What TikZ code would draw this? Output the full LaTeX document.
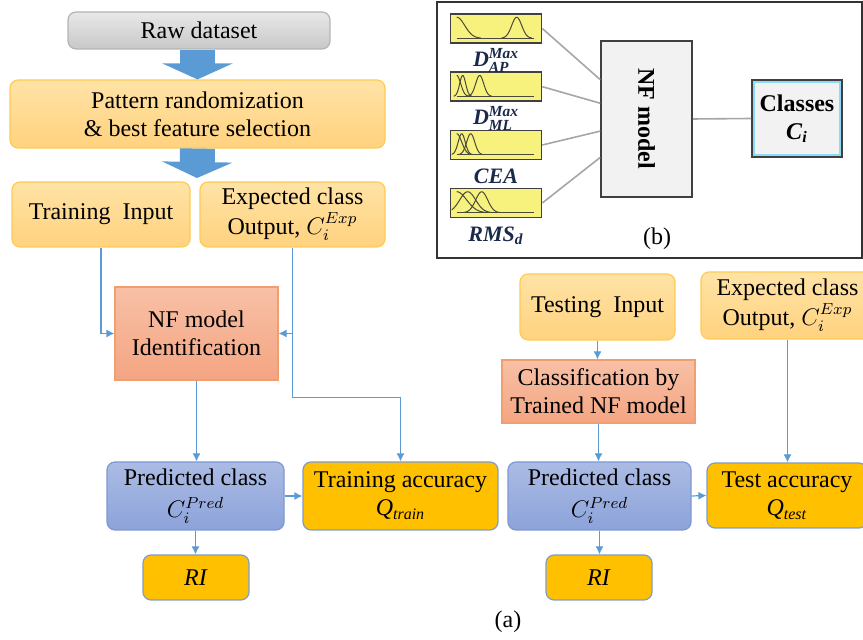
\documentclass[tikz,border=0pt]{standalone}
\usepackage{amsmath}
\usepackage{fontspec}
\setmainfont{Liberation Serif}
\usepackage{tikz}
\usetikzlibrary{arrows.meta, positioning, calc}
\definecolor{rawtop}{HTML}{E8E8E8}
\definecolor{rawbot}{HTML}{C8C8C8}
\definecolor{rawedge}{HTML}{B4B4B4}
\definecolor{intop}{HTML}{FFE3A6}
\definecolor{inbot}{HTML}{FFD27E}
\definecolor{inedge}{HTML}{FFCB52}
\definecolor{nftop}{HTML}{F8C0A6}
\definecolor{nfbot}{HTML}{F4A582}
\definecolor{nfedge}{HTML}{F0A070}
\definecolor{predtop}{HTML}{ABBBE4}
\definecolor{predbot}{HTML}{8CA3DA}
\definecolor{prededge}{HTML}{7D98D4}
\definecolor{accfill}{HTML}{FFC000}
\definecolor{accedge}{HTML}{7F9CCF}
\definecolor{connblue}{HTML}{5B9BD5}
\definecolor{bigblue}{HTML}{5B9BD5}
\definecolor{mfyellow}{HTML}{F7F27E}
\definecolor{mfcurvecol}{HTML}{4A4A3C}
\definecolor{mflabel}{HTML}{1B2A4A}
\definecolor{panelgray}{HTML}{F2F2F2}
\tikzset{
  flowbox/.style={
    rounded corners=4pt, align=center, line width=0.6pt,
    font=\fontsize{12}{14}\selectfont, inner sep=1pt
  },
  rawbox/.style={flowbox, top color=rawtop, bottom color=rawbot, draw=rawedge},
  inbox/.style={flowbox, top color=intop, bottom color=inbot, draw=inedge},
  nfbox/.style={flowbox, sharp corners, top color=nftop, bottom color=nfbot, draw=nfedge},
  predbox/.style={flowbox, top color=predtop, bottom color=predbot, draw=prededge},
  accbox/.style={flowbox, fill=accfill, draw=accedge},
  conn/.style={-{Latex[length=4pt,width=4pt]}, connblue, line width=0.6pt},
  bigarrow/.style={-{Triangle[length=8pt,width=35pt]}, bigblue, line width=17.5pt},
  mfbox/.style={
    draw=black!75, fill=mfyellow, line width=0.8pt, inner sep=0pt,
    minimum width=45.5pt, minimum height=14.5pt
  },
  mfcurve/.style={mfcurvecol, line width=0.5pt},
  mftext/.style={font=\fontsize{11}{12}\selectfont\bfseries\itshape, text=mflabel, inner sep=0pt},
  mfline/.style={black!35, line width=0.8pt},
  graybox/.style={
    draw=black!75, fill=panelgray, line width=0.8pt, align=center,
    font=\fontsize{12}{14}\selectfont\bfseries
  },
}
\newcommand{\mfbell}[2]{%
  \draw[mfcurve] plot[domain=#1-3*#2:#1+3*#2, samples=30]
    (\x,{25-21*exp(-((\x-#1)^2)/(2*#2*#2))});}
\newcommand{\mfzee}[2]{%
  \draw[mfcurve] plot[domain=#1:#1+3*#2, samples=30]
    (\x,{25-21*exp(-((\x-#1)^2)/(2*#2*#2))});}
\newcommand{\mfbase}{\clip (2,1) rectangle (89,28); \draw[mfcurve] (7,25) -- (84,25);}
\begin{document}
\begin{tikzpicture}[x=0.5pt, y=-0.5pt]
  \useasboundingbox (0,0) rectangle (863,640);

  % Training flow (a), left side
  \node[rawbox, minimum width=131pt, minimum height=18.5pt] (raw) at (199,30.5) {Raw dataset};
  \node[inbox, minimum width=187.5pt, minimum height=34pt] (pat) at (197.5,114)
    {Pattern randomization\\\& best feature selection};
  \node[inbox, minimum width=89pt, minimum height=32.5pt] (trin) at (101,214.5) {Training\ \ Input};
  \node[inbox, minimum width=92.5pt, minimum height=32.5pt] (expL) at (292.5,214.5)
    {Expected class\\[1pt]Output, $C_i^{Exp}$};
  \node[nfbox, minimum width=81.5pt, minimum height=46.5pt] (nfid) at (196.5,333.5)
    {NF model\\Identification};
  \node[predbox, minimum width=88.5pt, minimum height=34pt] (predL) at (195.5,496)
    {Predicted class\\[2pt]$C_i^{Pred}$};
  \node[accbox, minimum width=97.5pt, minimum height=34pt] (tracc) at (400.5,496)
    {Training accuracy\\\textit{Q}$_{\text{\textit{train}}}$};
  \node[accbox, minimum width=53pt, minimum height=22.5pt] (riL) at (196,577.5) {\textit{RI}};

  % Testing flow (a), right side
  \node[inbox, minimum width=77.5pt, minimum height=33pt] (tsin) at (597.5,307) {Testing\ \ Input};
  \node[inbox, minimum width=86.5pt, minimum height=33.5pt] (expR) at (787.5,305.5)
    {Expected class\\[1pt]Output, $C_i^{Exp}$};
  \node[nfbox, minimum width=96.5pt, minimum height=31.5pt] (clsf) at (598.5,391.5)
    {Classification by\\Trained NF model};
  \node[predbox, minimum width=91.5pt, minimum height=34pt] (predR) at (599.5,496)
    {Predicted class\\[2pt]$C_i^{Pred}$};
  \node[accbox, minimum width=80pt, minimum height=32.5pt] (tsacc) at (787,495.5)
    {Test accuracy\\\textit{Q}$_{\text{\textit{test}}}$};
  \node[accbox, minimum width=53pt, minimum height=22.5pt] (riR) at (599,577.5) {\textit{RI}};
  \node[font=\fontsize{12}{14}\selectfont] (capa) at (508,622) {(a)};

  % Block arrows
  \coordinate (fork) at (197,178);
  \draw[bigarrow] (pat.north |- raw.south) -- (pat.north);
  \draw[bigarrow] (pat.south) -- (fork);

  % Connectors
  \coordinate (jog) at ($(nfid.south)+(0,17)$);
  \draw[conn] (trin.south) |- (nfid.west);
  \draw[conn] (expL.south) |- (nfid.east);
  \draw[conn] (expL.south) -- (expL.south |- jog) -| (tracc.north);
  \draw[conn] (nfid.south) -- (nfid.south |- predL.north);
  \draw[conn] (predL.east) -- (tracc.west);
  \draw[conn] (predL.south) -- (predL.south |- riL.north);
  \draw[conn] (tsin.south) -- (tsin.south |- clsf.north);
  \draw[conn] (clsf.south) -- (clsf.south |- predR.north);
  \draw[conn] (predR.east) -- (tsacc.west);
  \draw[conn] (predR.south) -- (predR.south |- riR.north);
  \draw[conn] (expR.south) -- (expR.south |- tsacc.north);

  % Panel (b)
  \draw[black!80, line width=0.6pt] (437,2) rectangle (862,258);
  \foreach \i/\yy in {1/28.5, 2/86.7, 3/145, 4/203}
    \node[mfbox] (mf\i) at (496,\yy) {};
  \node[mftext, below=2pt of mf1] (lab1) {D$^{\text{Max}}_{\text{AP}}$};
  \node[mftext, below=2pt of mf2] (lab2) {D$^{\text{Max}}_{\text{ML}}$};
  \node[mftext, below=4pt of mf3] (lab3) {CEA};
  \node[mftext, below=4pt of mf4] (lab4) {RMS$_{\text{d}}$};
  % membership curves
  \begin{scope}[shift={(mf1.north west)}]
    \mfbase \mfzee{7}{8} \mfbell{67}{5}
  \end{scope}
  \begin{scope}[shift={(mf2.north west)}]
    \mfbase \mfzee{7}{4} \mfbell{13}{3} \mfbell{30}{4}
  \end{scope}
  \begin{scope}[shift={(mf3.north west)}]
    \mfbase \mfzee{7}{5} \mfbell{12}{3.5} \mfbell{21}{4}
  \end{scope}
  \begin{scope}[shift={(mf4.north west)}]
    \mfbase \mfzee{7}{10} \mfbell{18}{8} \mfbell{32}{6}
  \end{scope}

  \node[graybox, minimum width=45.5pt, minimum height=78pt] (nf) at (646.5,119) {};
  \node[font=\fontsize{12}{14}\selectfont\bfseries, rotate=-90] (nftext) at (nf.center) {NF model};
  \node[graybox, minimum width=45pt, minimum height=38.5pt, inner sep=1pt,
    path picture={\draw[cyan!45, line width=2.6pt]
      (path picture bounding box.south west) rectangle (path picture bounding box.north east);}]
    (cls) at (797,118.5) {Classes\\\textit{C}$_{\text{\textit{i}}}$};
  \node[font=\fontsize{12}{14}\selectfont] (capb) at (657,239) {(b)};

  \draw[mfline] (mf1.east) -- ($(nf.north west)!0.25!(nf.south west)$);
  \draw[mfline] (mf2.east) -- ($(nf.north west)!0.40!(nf.south west)$);
  \draw[mfline] (mf3.east) -- ($(nf.north west)!0.577!(nf.south west)$);
  \draw[mfline] (mf4.east) -- ($(nf.north west)!0.744!(nf.south west)$);
  \draw[mfline] (nf.east) -- (cls.west);
\end{tikzpicture}
\end{document}
